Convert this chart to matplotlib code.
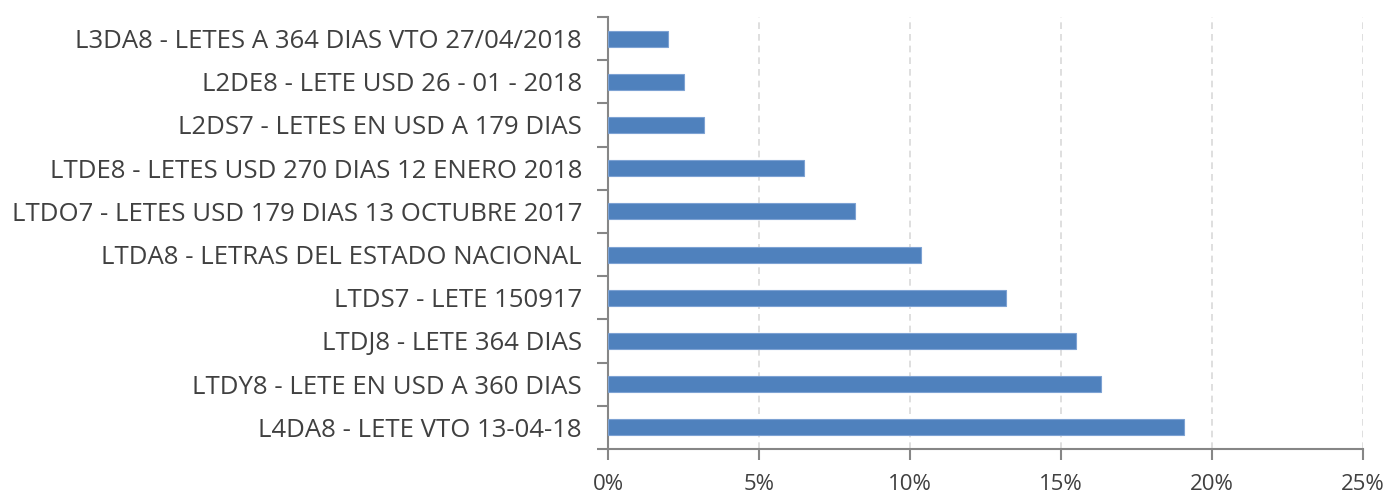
import numpy as np
import matplotlib.pyplot as plt
from matplotlib.ticker import FixedLocator, PercentFormatter

labels = [
    "L4DA8 - LETE VTO 13-04-18",
    "LTDY8 - LETE EN USD A 360 DIAS",
    "LTDJ8 - LETE 364 DIAS",
    "LTDS7 - LETE 150917",
    "LTDA8 - LETRAS DEL ESTADO NACIONAL",
    "LTDO7 - LETES USD 179 DIAS 13 OCTUBRE 2017",
    "LTDE8 - LETES USD 270 DIAS 12 ENERO 2018",
    "L2DS7 - LETES EN USD A 179 DIAS",
    "L2DE8 - LETE USD 26 - 01 - 2018",
    "L3DA8 - LETES A 364 DIAS VTO 27/04/2018",
]
values = [19.07, 16.31, 15.48, 13.18, 10.36, 8.18, 6.49, 3.17, 2.51, 1.98]
xticks = [0, 5, 10, 15, 20, 25]

plt.rcParams['font.family'] = ['Open Sans', 'DejaVu Sans']
text_color = "#404040"
axis_color = "#868686"

fig = plt.figure(figsize=(13.87, 4.97), dpi=100)
ax = fig.add_axes([0.4387, 0.0966, 0.5438, 0.8692])

y = np.arange(len(labels))
ax.barh(y, values, height=0.37, color="#4F81BD", edgecolor="#7DA2D3", linewidth=0.8, zorder=3)

ax.set_xlim(0, 25)
ax.set_ylim(-0.5, len(labels) - 0.5)
ax.set_xticks(xticks)
ax.xaxis.set_major_formatter(PercentFormatter(decimals=0))
ax.set_yticks(y)
ax.set_yticklabels(labels)
ax.yaxis.set_minor_locator(FixedLocator(np.arange(-0.5, len(labels), 1.0)))

ax.tick_params(axis="y", which="major", length=0, pad=19, labelsize=18.5, labelcolor=text_color)
ax.tick_params(axis="y", which="minor", length=8, width=1.5, color=axis_color, direction="out")
ax.tick_params(axis="x", which="major", length=8, width=1.5, color=axis_color, direction="out",
               pad=10, labelsize=16, labelcolor=text_color)

for v in xticks[1:]:
    ax.axvline(v, color="#D9D9D9", linestyle=(0, (4, 3)), linewidth=1.2, zorder=1)

for s in ["top", "right"]:
    ax.spines[s].set_visible(False)
for s in ["left", "bottom"]:
    ax.spines[s].set_color(axis_color)
    ax.spines[s].set_linewidth(1.5)

fig.savefig("out.png", dpi=100)
